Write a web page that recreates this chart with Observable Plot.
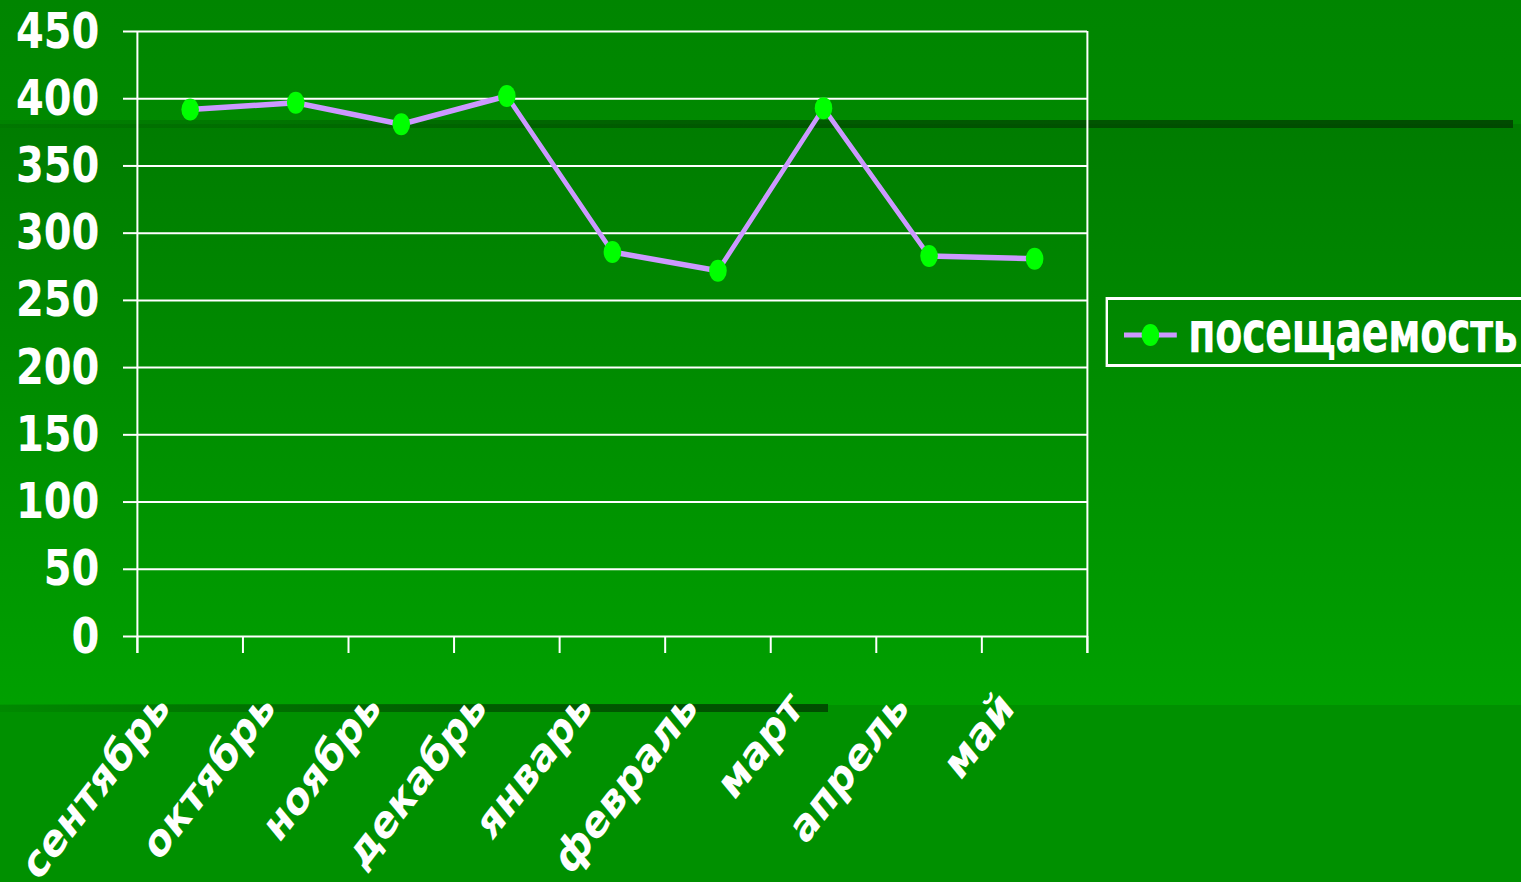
<!DOCTYPE html>
<html>
<head>
<meta charset="utf-8">
<script src="https://cdn.jsdelivr.net/npm/d3@7"></script>
<script src="https://cdn.jsdelivr.net/npm/@observablehq/plot@0.6"></script>
<style>
  html, body { margin: 0; padding: 0; }
  body { width: 1521px; height: 882px; overflow: hidden; position: relative;
         background: linear-gradient(to bottom, #008500 0%, #008900 14%, #009000 100%); }
  #area { position: absolute; left: 0; top: 124px; width: 1521px; height: 581px;
          background: linear-gradient(to bottom, #007c00 0%, #00a000 100%); }
  #bottom { position: absolute; left: 0; top: 705px; width: 1521px; height: 177px; background: #009000; }
  #band1 { position: absolute; left: 0; top: 120px; width: 1513px; height: 8px;
           background: linear-gradient(to right, rgba(0,60,0,0.08) 0%, rgba(0,60,0,0.55) 45%, rgba(0,60,0,0.8) 100%); }
  #band2 { position: absolute; left: 0; top: 704px; width: 828px; height: 8px;
           background: linear-gradient(to right, rgba(0,60,0,0.08) 0%, rgba(0,60,0,0.6) 55%, rgba(0,60,0,0.8) 100%); }
  #wrap { position: absolute; left: 0; top: 0; width: 1901px; height: 882px;
          transform: scaleX(0.8); transform-origin: 0 0; }
  #legend { position: absolute; left: 1382px; top: 297px; width: 560px; height: 64px;
            border: 3px solid white; border-left-width: 3.75px; }
  #legend svg { position: absolute; left: 20px; top: 0; }
  #legend span { position: absolute; left: 100px; top: 0; line-height: 64px; letter-spacing: -1px;
                 transform: scaleX(0.88); transform-origin: 0 50%;
                 font-family: "DejaVu Sans", sans-serif; font-weight: bold; font-size: 57px; color: white; white-space: nowrap; }
</style>
</head>
<body>
<div id="area"></div>
<div id="bottom"></div>
<div id="band1"></div>
<div id="band2"></div>
<div id="wrap"></div>
<script>
const months = ["сентябрь", "октябрь", "ноябрь", "декабрь", "январь", "февраль", "март", "апрель", "май"];
const visits = [392, 397, 381, 402, 286, 272, 393, 283, 281];
const yTicks = [0, 50, 100, 150, 200, 250, 300, 350, 400, 450];
const seriesName = "посещаемость";
const lineColor = "#cc99ff";
const dotColor = "#00ff00";

const data = months.map((m, i) => ({month: m, pos: i + 0.5, value: visits[i]}));
const bounds = d3.range(0, months.length + 1);

const chart = Plot.plot({
  width: 1901,
  height: 882,
  marginLeft: 171.25,
  marginRight: 542.25,
  marginTop: 31,
  marginBottom: 246,
  x: {type: "linear", domain: [0, months.length], axis: null},
  y: {domain: [0, 450], axis: null},
  style: {background: "transparent", color: "white", fontFamily: "DejaVu Sans, sans-serif", fontWeight: "bold"},
  marks: [
    Plot.gridY(yTicks, {stroke: "white", strokeOpacity: 1, strokeWidth: 2}),
    Plot.axisY(yTicks, {tickSize: 17.5, tickPadding: 30, fontSize: 50, fontWeight: "bold", strokeWidth: 2, label: null}),
    Plot.ruleX([0, months.length], {y1: 450, y2: 0, insetBottom: -17, stroke: "white", strokeWidth: 2.5}),
    Plot.axisX(bounds, {tickSize: 17, tickFormat: () => "", strokeWidth: 2.5, label: null}),
    Plot.text(data, {x: "pos", y: 0, text: "month", rotate: -46, textAnchor: "end", lineAnchor: "middle",
                     dx: -34, dy: 63, fontSize: 46, fontWeight: "bold", fill: "white"}),
    Plot.line(data, {x: "pos", y: "value", stroke: lineColor, strokeWidth: 5.5}),
    Plot.dot(data, {x: "pos", y: "value", r: 11, fill: dotColor, stroke: "none"})
  ]
});
const wrap = document.getElementById("wrap");
wrap.appendChild(chart);

const legend = document.createElement("div");
legend.id = "legend";
legend.innerHTML = `<svg width="80" height="64"><line x1="0" x2="66" y1="35" y2="35" stroke="${lineColor}" stroke-width="5"/>` +
  `<circle cx="33" cy="35" r="11" fill="${dotColor}"/></svg><span>${seriesName}</span>`;
wrap.appendChild(legend);
</script>
</body>
</html>
